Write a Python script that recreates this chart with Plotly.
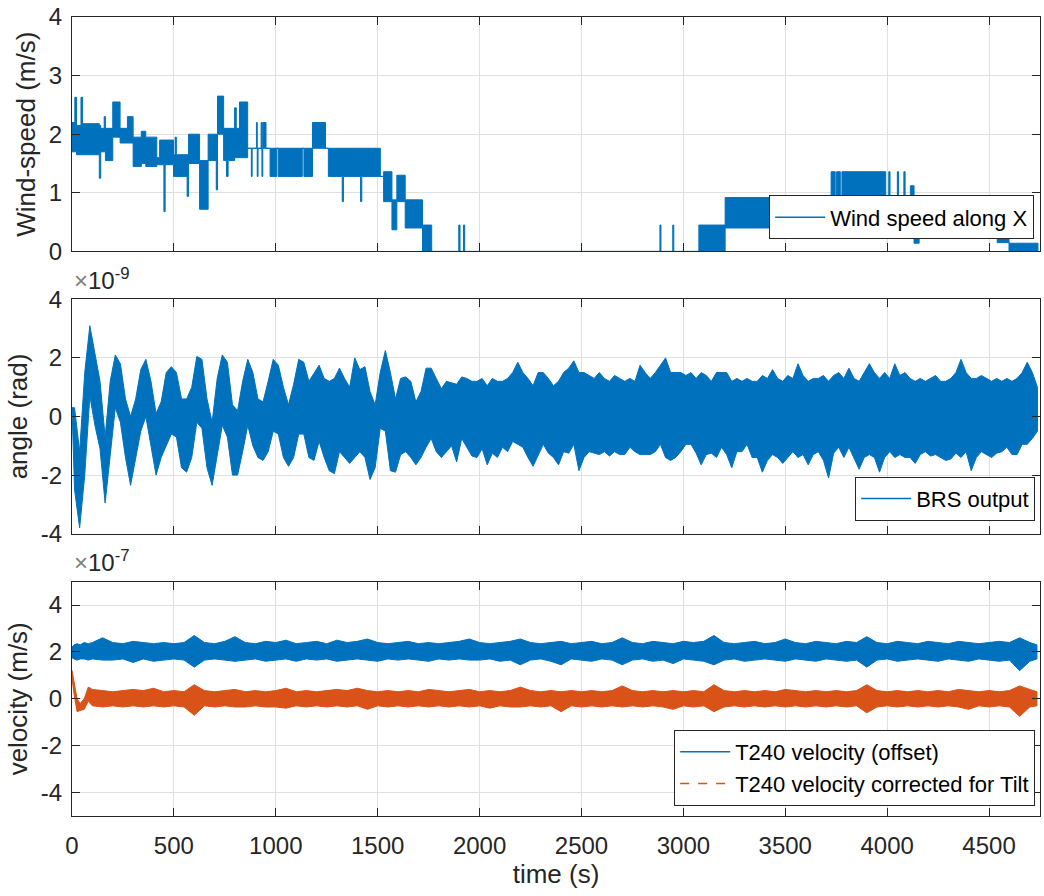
import plotly.graph_objects as go

BLUE = '#0072BD'
ORANGE = '#D95319'
AX = '#262626'
GRID = '#e0e0e0'
FONT = 'Liberation Sans, Arial, sans-serif'

# ---------------- Wind speed (m/s): piecewise segments
# each segment starts at wind_t[i]; min / max level reached inside the segment
wind_t = [0, 14, 22, 44, 52, 134, 141, 158, 164, 200, 236, 272, 300, 340, 362, 416, 430, 451, 457,
          498, 506, 512, 565, 572, 626, 668, 708, 714, 744, 758, 766, 798, 806, 822, 862, 880, 884,
          905, 909, 913, 928, 932, 936, 952, 972, 1005, 1012, 1130, 1138, 1180, 1244, 1258, 1326,
          1332, 1416, 1422, 1513, 1529, 1570, 1594, 1635, 1720, 1765, 1898, 1904, 1921, 1927, 2885,
          2890, 2948, 2953, 3076, 3205, 3725, 3745, 3752, 3770, 3778, 3993, 4008, 4014, 4050, 4056,
          4082, 4088, 4114, 4132, 4157, 4290, 4296, 4390, 4396, 4450, 4456, 4540, 4598]
wind_lo = [1.70, 1.70, 1.65, 1.65, 1.65, 1.25, 1.70, 1.70, 1.55, 1.95, 1.85, 1.85, 1.45, 1.50, 1.45,
           1.48, 1.48, 0.68, 1.48, 1.28, 1.28, 1.28, 0.94, 1.50, 0.72, 1.55, 1.05, 2.00, 1.55, 1.28,
           1.55, 1.60, 1.60, 1.60, 1.76, 1.28, 1.76, 1.76, 1.28, 1.76, 1.76, 1.28, 1.76, 1.76, 1.28,
           1.76, 1.28, 1.76, 1.28, 1.76, 1.76, 1.28, 0.85, 1.28, 0.85, 1.28, 1.28, 0.85, 0.37, 0.85,
           0.40, 0.00, 0.00, 0.00, 0.00, 0.00, 0.00, 0.00, 0.00, 0.00, 0.00, 0.00, 0.40, 0.90, 0.90,
           0.90, 0.90, 0.90, 0.88, 0.88, 0.88, 0.88, 0.88, 0.88, 0.88, 0.88, 0.14, 0.40, 0.24, 0.40,
           0.24, 0.40, 0.24, 0.40, 0.15, 0.00]
wind_hi = [2.20, 2.63, 2.15, 2.63, 2.18, 2.15, 2.10, 2.30, 2.10, 2.55, 2.10, 2.30, 1.95, 2.05, 1.95,
           1.60, 1.90, 1.90, 1.90, 1.65, 1.95, 1.65, 1.65, 2.00, 1.55, 2.00, 2.00, 2.65, 2.10, 2.10,
           2.10, 2.45, 2.10, 2.55, 1.76, 1.76, 1.76, 2.20, 1.76, 1.76, 2.20, 1.76, 2.20, 1.76, 1.76,
           1.76, 1.76, 1.76, 1.76, 2.20, 1.76, 1.76, 1.76, 1.76, 1.76, 1.76, 1.28, 1.36, 0.88, 1.30,
           0.88, 0.45, 0.00, 0.45, 0.00, 0.45, 0.00, 0.45, 0.00, 0.45, 0.00, 0.45, 0.92, 1.36, 0.90,
           1.36, 0.90, 1.36, 0.88, 1.36, 0.88, 1.36, 0.88, 1.36, 0.88, 1.12, 0.88, 0.88, 0.88, 0.88,
           0.88, 0.88, 0.88, 0.88, 0.45, 0.14]
WIND_T_END = 4740

# ---------------- BRS output (x1e-9 rad): max / min per 25 s bin
BRS_BIN = 25
BRS_START = 0.3
brs_hi = [0.3, -1.2, 1.5, 3.1, 2.2, 1.2, -0.7, 1.2, 2.1, 1.8, 0.6, 0.0, 0.6, 1.6, 1.95, 1.2, 0.1, 0.5,
          1.5, 1.7, 1.5, 0.6, 0.6, 1.0, 2.05, 1.95, 0.6, -0.2, 1.3, 2.1, 1.85, 0.4, 0.2, 1.2, 1.95, 1.5,
          0.6, 0.5, 1.2, 1.95, 1.75, 1.0, 0.4, 1.1, 1.95, 1.85, 1.2, 1.5, 1.75, 1.3, 1.2, 1.3, 1.65,
          1.3, 1.0, 2.0, 1.6, 1.7, 0.85, 0.4, 1.5, 2.25, 1.5, 0.6, 1.3, 1.35, 1.2, 0.5, 0.85, 1.65,
          1.65, 1.3, 0.95, 1.2, 1.15, 1.1, 1.35, 1.3, 1.2, 1.2, 1.3, 1.05, 1.3, 1.2, 1.2, 1.3, 1.5,
          1.85, 1.5, 1.3, 1.05, 1.5, 1.5, 1.3, 1.05, 1.2, 1.5, 1.65, 1.9, 1.5, 1.5, 1.4, 1.3, 1.5,
          1.3, 1.2, 1.4, 1.3, 1.2, 1.3, 1.2, 1.75, 1.5, 1.3, 1.5, 1.75, 2.0, 1.5, 1.5, 1.5, 1.4, 1.5,
          1.3, 1.5, 1.4, 1.2, 1.5, 1.5, 1.5, 1.2, 1.3, 1.2, 1.3, 1.2, 1.2, 1.4, 1.3, 1.6, 1.3, 1.2,
          1.4, 1.3, 1.8, 1.4, 1.2, 1.3, 1.3, 1.4, 1.2, 1.4, 1.5, 1.3, 1.65, 1.3, 1.2, 1.5, 1.8, 1.5,
          1.3, 1.5, 1.3, 1.8, 1.4, 1.5, 1.3, 1.2, 1.3, 1.2, 1.3, 1.4, 1.2, 1.2, 1.3, 1.5, 1.95, 1.5,
          1.3, 1.3, 1.4, 1.3, 1.2, 1.3, 1.2, 1.3, 1.2, 1.3, 1.5, 1.85, 1.5, 1.0]
brs_lo = [-2.5, -3.8, -2.0, 0.7, -0.3, -1.1, -2.95, -1.4, 0.3, -0.2, -1.4, -2.35, -1.4, -0.5, 0.0,
          -1.0, -2.0, -1.4, -1.0, -0.6, -0.7, -1.75, -1.9, -1.4, -0.2, -0.4, -1.75, -2.35, -1.4, -0.3,
          -0.7, -2.0, -2.0, -1.2, -0.3, -1.0, -1.4, -1.5, -1.2, -0.5, -0.6, -1.4, -1.7, -1.4, -0.6,
          -0.6, -1.4, -1.5, -0.85, -1.4, -1.85, -1.95, -1.2, -1.4, -1.6, -1.4, -1.2, -1.4, -2.15,
          -1.75, -0.4, -0.5, -1.85, -1.9, -1.3, -1.2, -1.4, -1.65, -1.4, -1.05, -0.75, -1.2, -1.4,
          -1.2, -1.0, -1.55, -0.75, -1.05, -1.35, -1.4, -1.1, -1.65, -1.25, -1.4, -1.05, -1.2, -0.85,
          -0.95, -1.05, -1.4, -1.7, -1.35, -0.95, -1.25, -1.4, -1.65, -1.2, -1.25, -0.95, -1.85,
          -1.4, -1.2, -1.25, -1.3, -1.2, -1.35, -1.2, -1.3, -1.3, -1.05, -1.2, -1.3, -1.3, -1.3,
          -1.2, -0.95, -1.4, -1.5, -1.4, -1.2, -0.95, -0.95, -1.25, -1.65, -1.3, -1.25, -1.4, -1.05,
          -1.3, -1.75, -1.2, -1.2, -0.95, -1.4, -1.4, -1.9, -1.5, -1.3, -1.4, -1.6, -1.4, -1.2,
          -1.4, -1.3, -1.65, -1.3, -1.2, -1.5, -2.1, -1.25, -1.05, -1.4, -1.05, -1.4, -1.8, -1.4,
          -1.3, -1.4, -1.9, -1.4, -1.2, -1.4, -1.3, -1.4, -1.4, -1.6, -1.3, -1.2, -1.35, -1.3, -1.4,
          -1.5, -1.45, -1.25, -1.4, -1.2, -1.85, -1.4, -1.2, -1.3, -1.4, -1.25, -1.2, -1.05, -1.3,
          -1.3, -0.95, -0.95, -0.75, -0.5]

# ---------------- T240 velocity (x1e-7 m/s): max / min around each time
t240_t = [0, 10, 25, 40, 60, 80, 100] + list(range(150, 4701, 50)) + [4735]
off_hi = [2.2, 2.3, 2.35, 2.3, 2.4, 2.35, 2.4, 2.6, 2.4, 2.35, 2.45, 2.4, 2.35, 2.4, 2.35, 2.4, 2.7,
          2.4, 2.35, 2.45, 2.65, 2.4, 2.35, 2.45, 2.4, 2.5, 2.35, 2.4, 2.45, 2.35, 2.5, 2.4, 2.45,
          2.55, 2.4, 2.35, 2.4, 2.45, 2.35, 2.4, 2.35, 2.4, 2.45, 2.55, 2.4, 2.35, 2.4, 2.45, 2.55,
          2.4, 2.35, 2.4, 2.45, 2.35, 2.4, 2.45, 2.35, 2.4, 2.6, 2.4, 2.35, 2.45, 2.4, 2.35, 2.45,
          2.4, 2.45, 2.7, 2.4, 2.35, 2.4, 2.45, 2.35, 2.4, 2.55, 2.4, 2.35, 2.45, 2.4, 2.35, 2.45,
          2.4, 2.65, 2.4, 2.35, 2.45, 2.4, 2.35, 2.45, 2.4, 2.35, 2.45, 2.4, 2.35, 2.4, 2.45, 2.4,
          2.6, 2.4, 2.3]
off_lo = [1.75, 1.7, 1.65, 1.7, 1.7, 1.65, 1.7, 1.65, 1.65, 1.7, 1.55, 1.7, 1.6, 1.65, 1.7, 1.65,
          1.35, 1.65, 1.7, 1.65, 1.6, 1.65, 1.7, 1.6, 1.65, 1.7, 1.6, 1.7, 1.65, 1.7, 1.6, 1.65,
          1.7, 1.65, 1.6, 1.7, 1.65, 1.7, 1.65, 1.6, 1.7, 1.65, 1.7, 1.65, 1.65, 1.7, 1.6, 1.65,
          1.45, 1.65, 1.7, 1.6, 1.45, 1.7, 1.65, 1.6, 1.7, 1.65, 1.45, 1.65, 1.7, 1.6, 1.65, 1.5,
          1.7, 1.65, 1.6, 1.45, 1.65, 1.7, 1.6, 1.65, 1.7, 1.65, 1.6, 1.7, 1.65, 1.6, 1.7, 1.65,
          1.6, 1.65, 1.35, 1.65, 1.7, 1.6, 1.65, 1.7, 1.65, 1.6, 1.7, 1.65, 1.6, 1.7, 1.65, 1.6,
          1.65, 1.2, 1.6, 1.7]
cor_hi = [1.2, 0.7, 0.0, -0.2, 0.0, 0.5, 0.4, 0.35, 0.3, 0.35, 0.4, 0.35, 0.45, 0.3, 0.35, 0.3,
          0.6, 0.35, 0.3, 0.35, 0.4, 0.3, 0.35, 0.3, 0.35, 0.45, 0.3, 0.35, 0.3, 0.35, 0.4, 0.35,
          0.45, 0.35, 0.3, 0.35, 0.3, 0.35, 0.3, 0.4, 0.35, 0.3, 0.35, 0.4, 0.3, 0.35, 0.3, 0.35,
          0.5, 0.35, 0.3, 0.35, 0.3, 0.35, 0.3, 0.35, 0.3, 0.35, 0.55, 0.35, 0.3, 0.35, 0.3, 0.35,
          0.3, 0.35, 0.3, 0.6, 0.35, 0.3, 0.35, 0.3, 0.35, 0.3, 0.4, 0.35, 0.3, 0.35, 0.3, 0.35,
          0.3, 0.35, 0.6, 0.35, 0.3, 0.35, 0.3, 0.35, 0.3, 0.35, 0.3, 0.4, 0.35, 0.3, 0.35, 0.3,
          0.35, 0.55, 0.4, 0.3]
cor_lo = [0.9, 0.2, -0.55, -0.5, -0.45, -0.1, -0.3, -0.35, -0.3, -0.35, -0.3, -0.35, -0.3, -0.35,
          -0.3, -0.35, -0.7, -0.3, -0.35, -0.3, -0.35, -0.35, -0.3, -0.35, -0.35, -0.4, -0.3,
          -0.35, -0.3, -0.35, -0.3, -0.35, -0.3, -0.45, -0.3, -0.35, -0.3, -0.35, -0.3, -0.35,
          -0.3, -0.35, -0.3, -0.35, -0.3, -0.4, -0.3, -0.35, -0.35, -0.3, -0.35, -0.3, -0.55, -0.3,
          -0.35, -0.3, -0.35, -0.3, -0.35, -0.3, -0.35, -0.3, -0.35, -0.45, -0.3, -0.35, -0.3,
          -0.55, -0.35, -0.3, -0.35, -0.3, -0.35, -0.3, -0.35, -0.3, -0.35, -0.3, -0.35, -0.3,
          -0.35, -0.3, -0.6, -0.35, -0.3, -0.35, -0.3, -0.35, -0.3, -0.35, -0.3, -0.35, -0.45,
          -0.3, -0.35, -0.3, -0.35, -0.75, -0.35, -0.3]

X_MAX = 4750
x_ticks = [0, 500, 1000, 1500, 2000, 2500, 3000, 3500, 4000, 4500]


def step_band(t, lo, hi, t_end):
    edges = list(t) + [t_end]
    xs, ys = [], []
    for i in range(len(t)):
        xs += [edges[i], edges[i + 1]]
        ys += [hi[i], hi[i]]
    for i in reversed(range(len(t))):
        xs += [edges[i + 1], edges[i]]
        ys += [lo[i], lo[i]]
    return xs + [xs[0]], ys + [ys[0]]


def env_band(t, lo, hi, scale):
    xs = list(t) + list(t)[::-1]
    ys = [v * scale for v in hi] + [v * scale for v in lo][::-1]
    return xs + [xs[0]], ys + [ys[0]]


fig = go.Figure()

# panel 1 - wind
wx, wy = step_band(wind_t, wind_lo, wind_hi, WIND_T_END)
fig.add_trace(go.Scatter(x=wx, y=wy, mode='lines', fill='toself', fillcolor=BLUE,
                         line=dict(color=BLUE, width=1), xaxis='x', yaxis='y',
                         showlegend=False, hoverinfo='skip'))
fig.add_trace(go.Scatter(x=[None], y=[None], mode='lines', name='Wind speed along X',
                         line=dict(color=BLUE, width=1.5), xaxis='x', yaxis='y', legend='legend'))

# panel 2 - BRS (band between per-bin max and min)
brs_t = [0] + [BRS_BIN / 2 + BRS_BIN * k for k in range(len(brs_hi))]
bx, by = env_band(brs_t, [BRS_START] + brs_lo, [BRS_START] + brs_hi, 1e-9)
fig.add_trace(go.Scatter(x=bx, y=by, mode='lines', fill='toself', fillcolor=BLUE,
                         line=dict(color=BLUE, width=1), xaxis='x2', yaxis='y2',
                         showlegend=False, hoverinfo='skip'))
fig.add_trace(go.Scatter(x=[None], y=[None], mode='lines', name='BRS output',
                         line=dict(color=BLUE, width=1.5), xaxis='x2', yaxis='y2', legend='legend2'))

# panel 3 - T240
ox, oy = env_band(t240_t, off_lo, off_hi, 1e-7)
fig.add_trace(go.Scatter(x=ox, y=oy, mode='lines', fill='toself', fillcolor=BLUE,
                         line=dict(color=BLUE, width=1), xaxis='x3', yaxis='y3',
                         showlegend=False, hoverinfo='skip'))
cx, cy = env_band(t240_t, cor_lo, cor_hi, 1e-7)
fig.add_trace(go.Scatter(x=cx, y=cy, mode='lines', fill='toself', fillcolor=ORANGE,
                         line=dict(color=ORANGE, width=1), xaxis='x3', yaxis='y3',
                         showlegend=False, hoverinfo='skip'))
fig.add_trace(go.Scatter(x=[None], y=[None], mode='lines', name='T240 velocity (offset)',
                         line=dict(color=BLUE, width=1.5), xaxis='x3', yaxis='y3', legend='legend3'))
fig.add_trace(go.Scatter(x=[None], y=[None], mode='lines', name='T240 velocity corrected for Tilt',
                         line=dict(color=ORANGE, width=1.5, dash='dash'), xaxis='x3', yaxis='y3',
                         legend='legend3'))

tickfont = dict(family=FONT, size=24, color=AX)
titlefont = dict(family=FONT, size=26, color=AX)
common = dict(showline=True, linecolor=AX, linewidth=1, mirror='ticks', ticks='inside',
              ticklen=8, tickcolor=AX, tickwidth=1, showgrid=True, gridcolor=GRID,
              gridwidth=1, zeroline=False, tickfont=tickfont)


def xax(anchor, labels):
    d = dict(common, anchor=anchor, domain=[0, 1], range=[0, X_MAX], tickvals=x_ticks,
             showticklabels=labels)
    return d


def yax(anchor, dom, rng, vals, text, title):
    return dict(common, anchor=anchor, domain=dom, range=rng, tickvals=vals, ticktext=text,
                title=dict(text=title, font=titlefont, standoff=5), ticklabelstandoff=4)


legend_common = dict(bgcolor='white', bordercolor=AX, borderwidth=1,
                     font=dict(family=FONT, size=22, color='black'),
                     xanchor='right', yanchor='bottom', tracegroupgap=0, itemwidth=50)

fig.update_layout(
    width=1044, height=896,
    margin=dict(l=72, r=3, t=15, b=80),
    paper_bgcolor='white', plot_bgcolor='white',
    xaxis=xax('y', False),
    xaxis2=xax('y2', False),
    xaxis3=dict(xax('y3', True), title=dict(text='time (s)', font=titlefont, standoff=6),
                ticklabelstandoff=8),
    yaxis=yax('x', [0.7066, 1.0], [0, 4], [0, 1, 2, 3, 4], ['0', '1', '2', '3', '4'],
              'Wind-speed (m/s)'),
    yaxis2=yax('x2', [0.3533, 0.6467], [-4e-9, 4e-9], [-4e-9, -2e-9, 0, 2e-9, 4e-9],
               ['-4', '-2', '0', '2', '4'], 'angle (rad)'),
    yaxis3=yax('x3', [0, 0.2934], [-5e-7, 5e-7], [-4e-7, -2e-7, 0, 2e-7, 4e-7],
               ['-4', '-2', '0', '2', '4'], 'velocity (m/s)'),
    legend=dict(legend_common, x=0.994, y=0.7216),
    legend2=dict(legend_common, x=0.995, y=0.3695),
    legend3=dict(legend_common, x=0.995, y=0.0125),
    annotations=[
        dict(xref='paper', yref='paper', x=0.0, y=0.6504, xanchor='left', yanchor='bottom',
             showarrow=False, font=dict(family=FONT, size=24, color=AX),
             text='<span style="color:#808080">×</span>10<sup>-9</sup>'),
        dict(xref='paper', yref='paper', x=0.0, y=0.2984, xanchor='left', yanchor='bottom',
             showarrow=False, font=dict(family=FONT, size=24, color=AX),
             text='<span style="color:#808080">×</span>10<sup>-7</sup>'),
    ],
)

fig.write_html('out.html')
